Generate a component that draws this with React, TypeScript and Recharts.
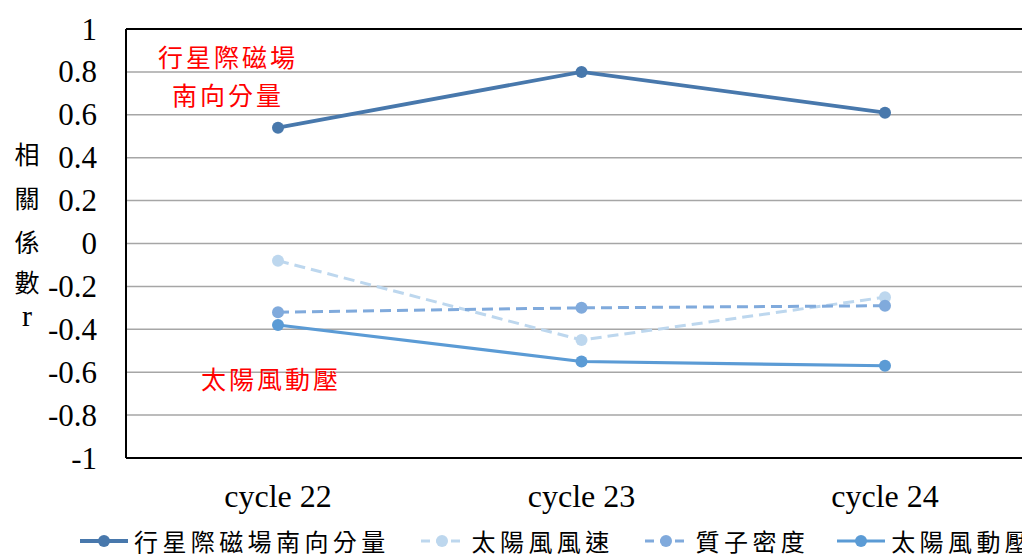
import { LineChart, Line, XAxis, YAxis, CartesianGrid, Legend, ReferenceLine } from 'recharts'

const categories = ['cycle 22', 'cycle 23', 'cycle 24']
const imfSouthward = [0.54, 0.8, 0.61]
const windSpeed = [-0.08, -0.45, -0.25]
const protonDensity = [-0.32, -0.3, -0.29]
const dynamicPressure = [-0.38, -0.55, -0.57]
const yTicks = [-1, -0.8, -0.6, -0.4, -0.2, 0, 0.2, 0.4, 0.6, 0.8, 1]

const seriesNames = ['行星際磁場南向分量', '太陽風風速', '質子密度', '太陽風動壓']
const seriesKeys = ['imf', 'speed', 'density', 'pressure']
const seriesColors = ['#4878AC', '#BDD7EE', '#80AADC', '#5B9BD5']
const seriesDash = ['', '11 6', '11 6', '']
const seriesWidth = [3.8, 3, 3, 3.2]

const yLabelChars = ['相', '關', '係', '數', 'r']
const noteTop = ['行星際磁場', '南向分量']
const noteBottom = '太陽風動壓'

const data = categories.map((name, i) => ({
  name,
  imf: imfSouthward[i],
  speed: windSpeed[i],
  density: protonDensity[i],
  pressure: dynamicPressure[i],
}))

const serif = '"Liberation Serif", "Times New Roman", serif'
const cjk = '"Noto Sans CJK TC", "Noto Sans CJK SC", sans-serif'

const YLabel = () => {
  const ys = [153, 197, 241, 281, 315]
  return (
    <g>
      {yLabelChars.map((c, i) => (
        <text
          key={c}
          x={27}
          y={ys[i]}
          textAnchor="middle"
          dominantBaseline="central"
          fontSize={c === 'r' ? 30 : 25}
          fontFamily={c === 'r' ? serif : cjk}
          fill="#000"
        >
          {c}
        </text>
      ))}
    </g>
  )
}

const YTick = (props: any) => {
  const { y, payload } = props
  return (
    <text x={97} y={y} textAnchor="end" dominantBaseline="central" fontFamily={serif} fontSize={31} fill="#000">
      {payload.value}
    </text>
  )
}

const XTick = (props: any) => {
  const { x, payload } = props
  return (
    <text x={x} y={507} textAnchor="middle" fontFamily={serif} fontSize={32} fill="#000">
      {payload.value}
    </text>
  )
}

const renderLegend = () => (
  <div style={{ display: 'flex', alignItems: 'center', height: 30, paddingLeft: 80, gap: 28 }}>
    {seriesNames.map((name, i) => (
      <div key={name} style={{ display: 'flex', alignItems: 'center', gap: 6, height: 30 }}>
        <svg width={48} height={16}>
          <line
            x1={0}
            y1={8}
            x2={48}
            y2={8}
            stroke={seriesColors[i]}
            strokeWidth={seriesWidth[i]}
            strokeDasharray={seriesDash[i] ? '9 6' : undefined}
            strokeDashoffset={seriesDash[i] ? -3 : 0}
          />
          <circle cx={24} cy={8} r={6} fill={seriesColors[i]} />
        </svg>
        <span style={{ fontFamily: cjk, fontSize: 24, lineHeight: '30px', letterSpacing: 4.4, whiteSpace: 'nowrap', color: '#000' }}>
          {name}
        </span>
      </div>
    ))}
  </div>
)

export default function App() {
  return (
    <div style={{ position: 'fixed', left: 0, top: 0, width: 1022, height: 556, overflow: 'hidden', background: '#fff' }}>
      <LineChart width={1037} height={556} data={data} margin={{ top: 29, right: 0, bottom: 0, left: 0 }}>
        <CartesianGrid vertical={false} stroke="#A6A6A6" strokeWidth={1.5} />
        <XAxis
          dataKey="name"
          padding={{ left: 152, right: 152 }}
          height={68}
          axisLine={{ stroke: '#000', strokeWidth: 2 }}
          tickLine={false}
          tick={<XTick />}
        />
        <YAxis
          domain={[-1, 1]}
          ticks={yTicks}
          width={126}
          axisLine={{ stroke: '#000', strokeWidth: 2 }}
          tickLine={false}
          tick={<YTick />}
          label={{ content: <YLabel /> }}
        />
        <ReferenceLine y={1} stroke="#000" strokeWidth={2} />
        <Legend
          verticalAlign="bottom"
          content={renderLegend}
          wrapperStyle={{ left: 0, bottom: 0, width: 1037, height: 30 }}
        />
        {seriesKeys.map((key, i) => (
          <Line
            key={key}
            type="linear"
            dataKey={key}
            name={seriesNames[i]}
            stroke={seriesColors[i]}
            strokeWidth={seriesWidth[i]}
            strokeDasharray={seriesDash[i] || undefined}
            dot={{ r: 6, fill: seriesColors[i], stroke: seriesColors[i], strokeWidth: 0 }}
            isAnimationActive={false}
          />
        ))}
      </LineChart>
      <div style={{ position: 'absolute', left: 155, top: 37, width: 146, fontFamily: cjk, fontSize: 25, lineHeight: '38px', letterSpacing: 3, color: '#FF0000', textAlign: 'center' }}>
        {noteTop.map((t) => (
          <div key={t}>{t}</div>
        ))}
      </div>
      <div style={{ position: 'absolute', left: 201, top: 360, fontFamily: cjk, fontSize: 25, letterSpacing: 3, color: '#FF0000', whiteSpace: 'nowrap' }}>
        {noteBottom}
      </div>
    </div>
  )
}
